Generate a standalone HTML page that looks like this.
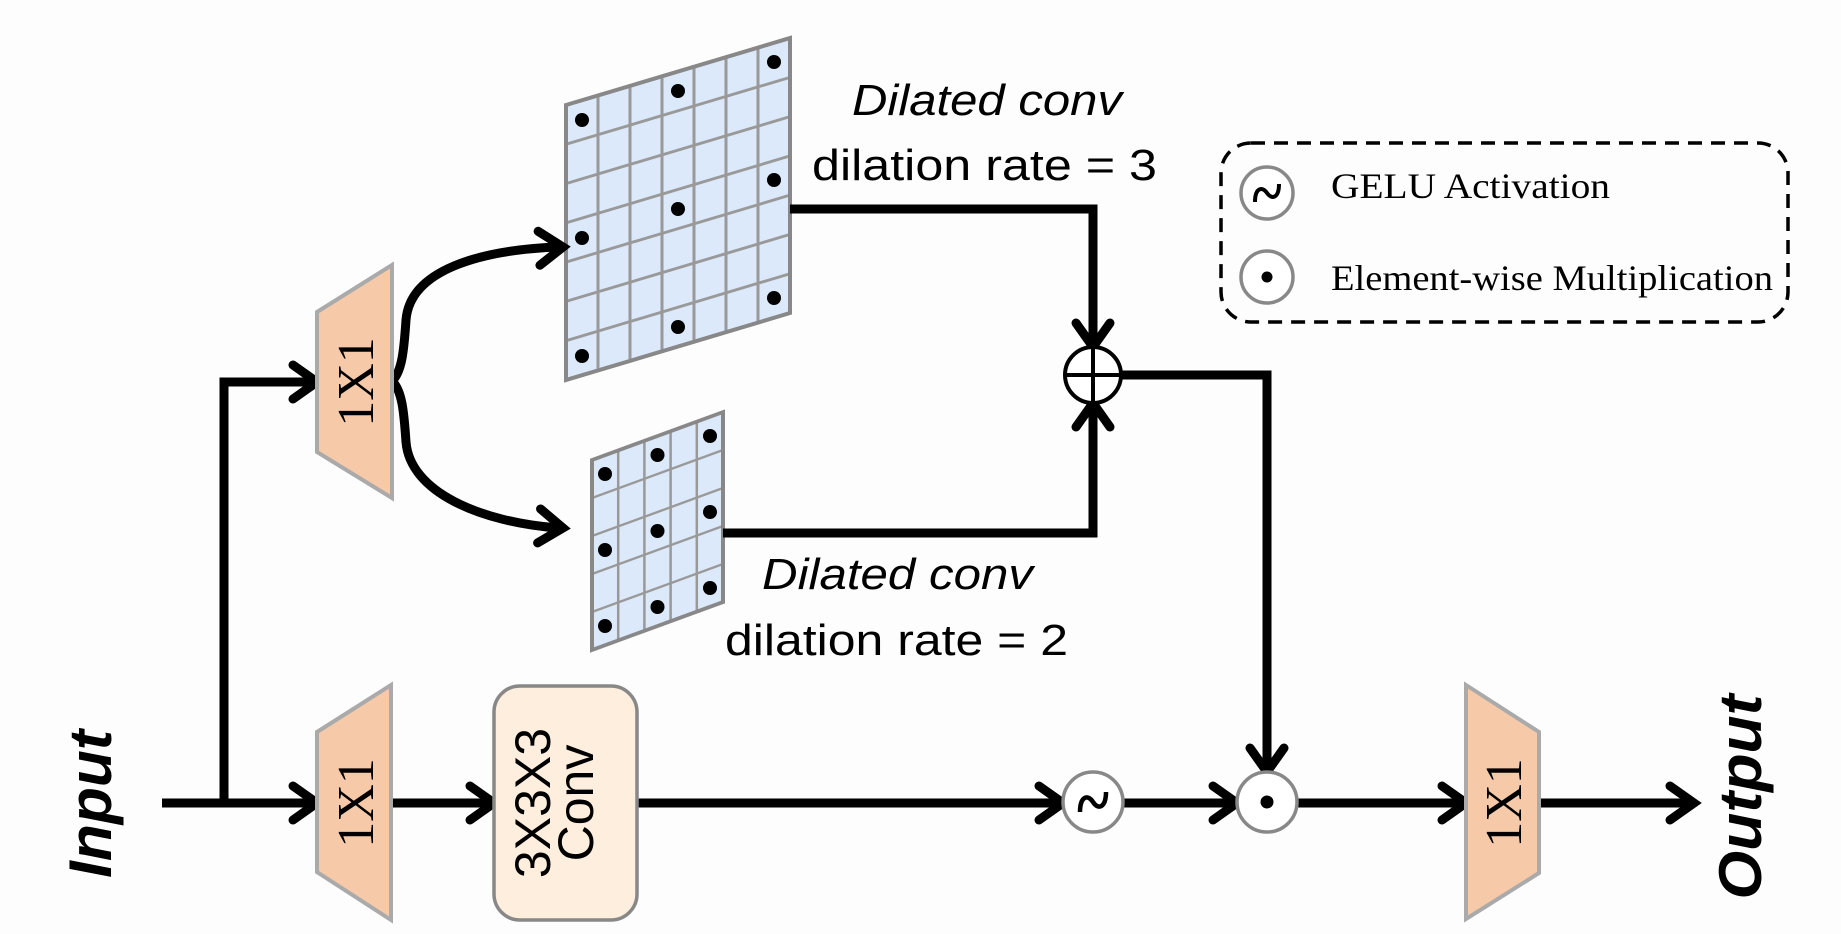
<!DOCTYPE html>
<html><head><meta charset="utf-8"><style>
html,body{margin:0;padding:0;background:#fdfdfd;}
svg{display:block;}
</style></head><body>
<svg width="1841" height="934" viewBox="0 0 1841 934" xmlns="http://www.w3.org/2000/svg">
<rect width="1841" height="934" fill="#fdfdfd"/>
<defs>
<g id="ah"><polyline points="-24,-17 0,0 -24,17" fill="none" stroke="#000" stroke-width="9" stroke-linecap="round" stroke-linejoin="miter"/></g>
</defs>

<g transform="matrix(1,-0.299,0,1,566,105)">
<rect x="0" y="0" width="224" height="275" fill="#dbe9fa" stroke="#888" stroke-width="4"/>
<g stroke="#999" stroke-width="3">
<line x1="32" y1="0" x2="32" y2="275"/><line x1="64" y1="0" x2="64" y2="275"/><line x1="96" y1="0" x2="96" y2="275"/>
<line x1="128" y1="0" x2="128" y2="275"/><line x1="160" y1="0" x2="160" y2="275"/><line x1="192" y1="0" x2="192" y2="275"/>
<line x1="0" y1="39.3" x2="224" y2="39.3"/><line x1="0" y1="78.6" x2="224" y2="78.6"/><line x1="0" y1="117.9" x2="224" y2="117.9"/>
<line x1="0" y1="157.1" x2="224" y2="157.1"/><line x1="0" y1="196.4" x2="224" y2="196.4"/><line x1="0" y1="235.7" x2="224" y2="235.7"/>
</g>
<rect x="0" y="0" width="224" height="275" fill="none" stroke="#888" stroke-width="4"/>
</g>
<g fill="#000">
<circle cx="582" cy="120" r="7"/><circle cx="582" cy="238" r="7"/><circle cx="582" cy="356" r="7"/>
<circle cx="678" cy="91" r="7"/><circle cx="678" cy="209" r="7"/><circle cx="678" cy="327" r="7"/>
<circle cx="774" cy="62" r="7"/><circle cx="774" cy="180" r="7"/><circle cx="774" cy="298" r="7"/>
</g>

<g transform="matrix(1,-0.366,0,1,592,460)">
<rect x="0" y="0" width="131" height="190" fill="#dbe9fa"/>
<g stroke="#999" stroke-width="2.5">
<line x1="26.2" y1="0" x2="26.2" y2="190"/><line x1="52.4" y1="0" x2="52.4" y2="190"/><line x1="78.6" y1="0" x2="78.6" y2="190"/><line x1="104.8" y1="0" x2="104.8" y2="190"/>
<line x1="0" y1="38" x2="131" y2="38"/><line x1="0" y1="76" x2="131" y2="76"/><line x1="0" y1="114" x2="131" y2="114"/><line x1="0" y1="152" x2="131" y2="152"/>
</g>
<rect x="0" y="0" width="131" height="190" fill="none" stroke="#888" stroke-width="4"/>
</g>
<g fill="#000">
<circle cx="605" cy="474" r="7"/><circle cx="605" cy="550" r="7"/><circle cx="605" cy="626" r="7"/>
<circle cx="657.5" cy="455" r="7"/><circle cx="657.5" cy="531" r="7"/><circle cx="657.5" cy="607" r="7"/>
<circle cx="710" cy="436" r="7"/><circle cx="710" cy="512" r="7"/><circle cx="710" cy="588" r="7"/>
</g>

<g fill="none" stroke="#000" stroke-width="9" stroke-linejoin="miter">
<polyline points="162,803 317,803"/>
<polyline points="224,803 224,382 313,382"/>
<path d="M392,381 C402,372 404,350 406,320 C410,270 480,250 558,247"/>
<path d="M392,381 C402,390 404,412 406,442 C410,492 480,522 558,528"/>
<polyline points="391,803 490,803"/>
<polyline points="637,803 1059,803"/>
<polyline points="1123,803 1233,803"/>
<polyline points="1297,803 1462,803"/>
<polyline points="1539,803 1690,803"/>
<polyline points="790,209 1093,209 1093,343"/>
<polyline points="723,533 1093,533 1093,407"/>
<polyline points="1121,375 1267,375 1267,768"/>
</g>
<use href="#ah" transform="translate(317,382)"/>
<use href="#ah" transform="translate(317,803)"/>
<use href="#ah" transform="translate(494,803)"/>
<use href="#ah" transform="translate(1063,803)"/>
<use href="#ah" transform="translate(1237,803)"/>
<use href="#ah" transform="translate(1466,803)"/>
<use href="#ah" transform="translate(1694,803)"/>
<use href="#ah" transform="translate(563,247) rotate(-3)"/>
<use href="#ah" transform="translate(563,528) rotate(5)"/>
<use href="#ah" transform="translate(1093,347) rotate(90)"/>
<use href="#ah" transform="translate(1093,403) rotate(-90)"/>
<use href="#ah" transform="translate(1267,772) rotate(90)"/>

<circle cx="1093" cy="375" r="28" fill="#fff" stroke="#000" stroke-width="4"/>
<line x1="1065" y1="375" x2="1121" y2="375" stroke="#000" stroke-width="4"/>
<line x1="1093" y1="347" x2="1093" y2="403" stroke="#000" stroke-width="4"/>

<circle cx="1093" cy="802" r="30" fill="#fff" stroke="#888" stroke-width="3.5"/>
<path d="M1080,812 C1080,796 1088,794 1093,802 C1098,810 1106,808 1106,792" fill="none" stroke="#000" stroke-width="4.5"/>
<circle cx="1267" cy="802" r="30" fill="#fff" stroke="#888" stroke-width="3.5"/>
<circle cx="1267" cy="802" r="6.5" fill="#000"/>

<polygon points="317,312 392,265 392,498 317,452" fill="#f6caa9" stroke="#aaa" stroke-width="4"/>
<polygon points="317,732 391,685 391,920 317,872" fill="#f6caa9" stroke="#aaa" stroke-width="4"/>
<polygon points="1466,685 1539,732 1539,873 1466,919" fill="#f6caa9" stroke="#aaa" stroke-width="4"/>
<g font-family="Liberation Serif, serif" font-size="52" fill="#000" text-anchor="middle">
<text transform="translate(373,382) rotate(-90)">1X1</text>
<text transform="translate(373,803) rotate(-90)">1X1</text>
<text transform="translate(1521,803) rotate(-90)">1X1</text>
</g>

<rect x="494" y="686" width="143" height="234" rx="26" fill="#fdeedd" stroke="#888" stroke-width="3.5"/>
<g font-family="Liberation Sans, sans-serif" font-size="50" fill="#000" text-anchor="middle">
<text transform="translate(550,803) rotate(-90)">3X3X3</text>
<text transform="translate(593,803) rotate(-90)">Conv</text>
</g>

<g font-family="Liberation Sans, sans-serif" font-size="60" font-weight="bold" font-style="italic" fill="#000" text-anchor="middle">
<text transform="translate(111,804) rotate(-90)" textLength="148" lengthAdjust="spacingAndGlyphs">Input</text>
<text transform="translate(1761,797) rotate(-90)" textLength="205" lengthAdjust="spacingAndGlyphs">Output</text>
</g>

<g font-family="Liberation Sans, sans-serif" font-size="44" fill="#000">
<text x="852" y="115" font-style="italic" textLength="270" lengthAdjust="spacingAndGlyphs">Dilated conv</text>
<text x="812" y="180" textLength="345" lengthAdjust="spacingAndGlyphs">dilation rate = 3</text>
<text x="762" y="589" font-style="italic" textLength="271" lengthAdjust="spacingAndGlyphs">Dilated conv</text>
<text x="725" y="655" textLength="343" lengthAdjust="spacingAndGlyphs">dilation rate = 2</text>
</g>

<rect x="1221" y="143" width="567" height="179" rx="30" fill="none" stroke="#000" stroke-width="3.5" stroke-dasharray="14 9"/>
<circle cx="1267" cy="193" r="26" fill="#fff" stroke="#888" stroke-width="3.5"/>
<path d="M1255,202 C1255,188 1262,186 1267,193 C1272,200 1279,198 1279,184" fill="none" stroke="#000" stroke-width="4"/>
<circle cx="1267" cy="277" r="26" fill="#fff" stroke="#888" stroke-width="3.5"/>
<circle cx="1267" cy="277" r="5.5" fill="#000"/>
<g font-family="Liberation Serif, serif" font-size="36" fill="#000">
<text x="1331" y="198" textLength="279" lengthAdjust="spacingAndGlyphs">GELU Activation</text>
<text x="1331" y="290" textLength="442" lengthAdjust="spacingAndGlyphs">Element-wise Multiplication</text>
</g>
</svg>
</body></html>
